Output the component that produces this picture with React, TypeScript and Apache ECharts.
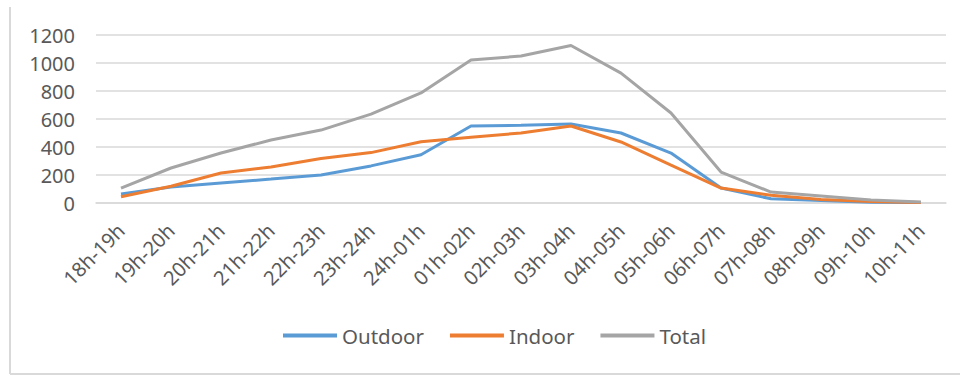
import React, { useEffect, useRef } from "react";
import * as echarts from "echarts";

const categories = [
  "18h-19h", "19h-20h", "20h-21h", "21h-22h", "22h-23h", "23h-24h", "24h-01h",
  "01h-02h", "02h-03h", "03h-04h", "04h-05h", "05h-06h", "06h-07h", "07h-08h",
  "08h-09h", "09h-10h", "10h-11h",
];
const outdoor = [64, 115, 143, 171, 200, 265, 345, 550, 555, 565, 500, 357, 107, 30, 18, 6, 4];
const indoor = [45, 120, 214, 257, 318, 360, 438, 470, 500, 550, 436, 271, 107, 55, 25, 10, 4];
const total = [107, 250, 357, 450, 521, 635, 786, 1021, 1050, 1125, 928, 643, 221, 78, 50, 22, 8];
const yTicks = { min: 0, max: 1200, interval: 200 };

const FONT = "'Noto Sans', 'Open Sans', sans-serif";
const TXT = "#595959";

export default function App() {
  const ref = useRef<HTMLDivElement>(null);
  useEffect(() => {
    const chart = echarts.init(ref.current!, undefined, { renderer: "svg" });
    const mk = (name: string, data: number[], color: string) => ({
      name,
      type: "line",
      data,
      symbol: "none",
      lineStyle: { color, width: 3 },
      itemStyle: { color },
    });
    chart.setOption({
      animation: false,
      backgroundColor: "#ffffff",
      textStyle: { fontFamily: FONT },
      grid: { left: 96, right: 14, top: 35, bottom: 173 },
      legend: {
        left: 278,
        top: 320,
        icon: "rect",
        itemWidth: 54,
        itemHeight: 4,
        itemGap: 26,
        textStyle: { color: TXT, fontSize: 20.5, fontFamily: FONT },
        data: ["Outdoor", "Indoor", "Total"],
      },
      xAxis: {
        type: "category",
        data: categories,
        boundaryGap: true,
        axisLine: { show: true, lineStyle: { color: "#d9d9d9", width: 1.5 } },
        axisTick: { show: false },
        axisLabel: { rotate: 45, color: TXT, fontSize: 20, margin: 24, interval: 0, fontFamily: FONT },
      },
      yAxis: {
        type: "value",
        min: yTicks.min,
        max: yTicks.max,
        interval: yTicks.interval,
        axisLine: { show: false },
        axisTick: { show: false },
        axisLabel: {
          color: TXT,
          fontSize: 20,
          margin: 21,
          fontFamily: FONT,
          formatter: (v: number) => String(v),
        },
        splitLine: { lineStyle: { color: "#d9d9d9", width: 1.5 } },
      },
      graphic: [
        { type: "line", shape: { x1: 10, y1: 7, x2: 10, y2: 374 }, style: { stroke: "#d9d9d9", lineWidth: 2 } },
        { type: "line", shape: { x1: 10, y1: 374, x2: 960, y2: 374 }, style: { stroke: "#d9d9d9", lineWidth: 2 } },
      ],
      series: [
        mk("Outdoor", outdoor, "#5B9BD5"),
        mk("Indoor", indoor, "#ED7D31"),
        mk("Total", total, "#A5A5A5"),
      ],
    });
    return () => chart.dispose();
  }, []);
  return (
    <div
      ref={ref}
      style={{ position: "absolute", left: 0, top: 0, width: 960, height: 376 }}
    />
  );
}
